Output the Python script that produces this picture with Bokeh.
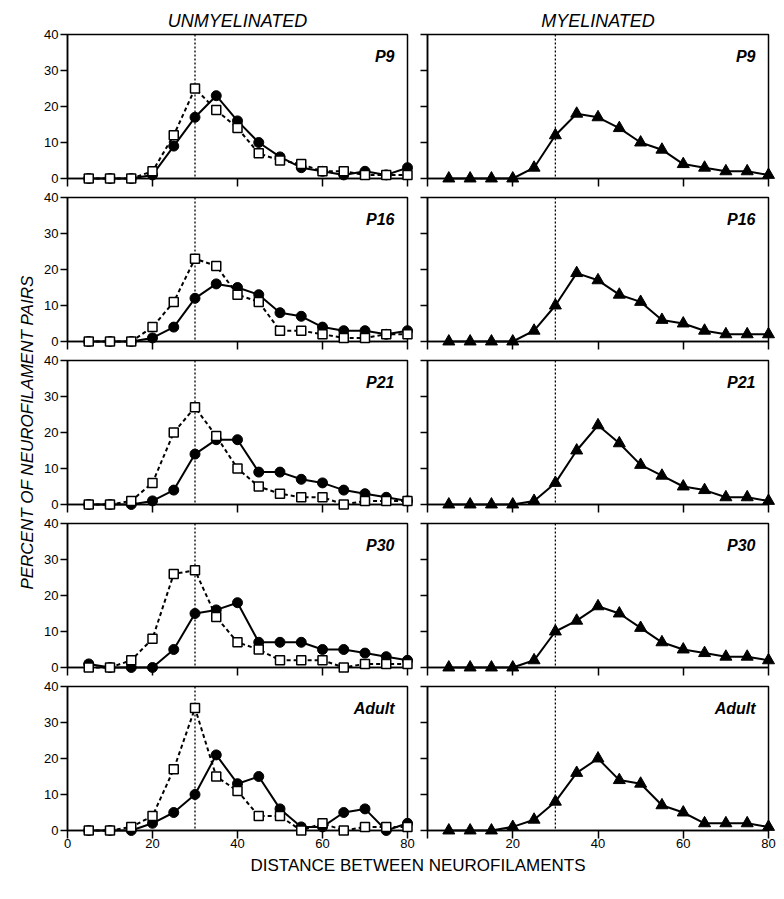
from bokeh.plotting import figure
from bokeh.models import Range1d, Span, Label, Title, FixedTicker
from bokeh.layouts import column, row
from bokeh.embed import file_html
from bokeh.resources import INLINE

# ---------------- data ----------------
distance = [5, 10, 15, 20, 25, 30, 35, 40, 45, 50, 55, 60, 65, 70, 75, 80]
x_ticks = [0, 20, 40, 60, 80]
y_ticks = [0, 10, 20, 30, 40]
panel_labels = ["P9", "P16", "P21", "P30", "Adult"]
column_titles = ["UNMYELINATED", "MYELINATED"]
threshold = 30

p9_unmyel_circle = [0, 0, 0, 1, 9, 17, 23, 16, 10, 6, 3, 2, 1, 2, 1, 3]
p9_unmyel_square = [0, 0, 0, 2, 12, 25, 19, 14, 7, 5, 4, 2, 2, 1, 1, 1]
p9_myel_triangle = [0, 0, 0, 0, 3, 12, 18, 17, 14, 10, 8, 4, 3, 2, 2, 1]

p16_unmyel_circle = [0, 0, 0, 1, 4, 12, 16, 15, 13, 8, 7, 4, 3, 3, 2, 3]
p16_unmyel_square = [0, 0, 0, 4, 11, 23, 21, 13, 11, 3, 3, 2, 1, 1, 2, 2]
p16_myel_triangle = [0, 0, 0, 0, 3, 10, 19, 17, 13, 11, 6, 5, 3, 2, 2, 2]

p21_unmyel_circle = [0, 0, 0, 1, 4, 14, 18, 18, 9, 9, 7, 6, 4, 3, 2, 1]
p21_unmyel_square = [0, 0, 1, 6, 20, 27, 19, 10, 5, 3, 2, 2, 0, 1, 1, 1]
p21_myel_triangle = [0, 0, 0, 0, 1, 6, 15, 22, 17, 11, 8, 5, 4, 2, 2, 1]

p30_unmyel_circle = [1, 0, 0, 0, 5, 15, 16, 18, 7, 7, 7, 5, 5, 4, 3, 2]
p30_unmyel_square = [0, 0, 2, 8, 26, 27, 14, 7, 5, 2, 2, 2, 0, 1, 1, 1]
p30_myel_triangle = [0, 0, 0, 0, 2, 10, 13, 17, 15, 11, 7, 5, 4, 3, 3, 2]

adult_unmyel_circle = [0, 0, 0, 2, 5, 10, 21, 13, 15, 6, 1, 1, 5, 6, 0, 2]
adult_unmyel_square = [0, 0, 1, 4, 17, 34, 15, 11, 4, 4, 0, 2, 0, 1, 1, 1]
adult_myel_triangle = [0, 0, 0, 1, 3, 8, 16, 20, 14, 13, 7, 5, 2, 2, 2, 1]

unmyel_circles = [p9_unmyel_circle, p16_unmyel_circle, p21_unmyel_circle,
                  p30_unmyel_circle, adult_unmyel_circle]
unmyel_squares = [p9_unmyel_square, p16_unmyel_square, p21_unmyel_square,
                  p30_unmyel_square, adult_unmyel_square]
myel_triangles = [p9_myel_triangle, p16_myel_triangle, p21_myel_triangle,
                  p30_myel_triangle, adult_myel_triangle]

FONT = "Liberation Sans"
NROWS = len(panel_labels)
TOP_FIRST = 34
BOTTOM_LAST = 23


def make_panel(col, r):
    first = r == 0
    last = r == NROWS - 1
    w = 377 if col == 0 else 359
    top = TOP_FIRST if first else 10
    bottom = BOTTOM_LAST if last else 9
    h = top + 144 + bottom
    p = figure(width=w, height=h, x_range=Range1d(0, 80), y_range=Range1d(0, 40),
               output_backend="svg", toolbar_location=None,
               min_border_left=27 if col == 0 else 10,
               min_border_right=10 if col == 0 else 8,
               min_border_top=top, min_border_bottom=bottom)
    p.xgrid.visible = False
    p.ygrid.visible = False
    p.outline_line_color = "black"
    p.outline_line_width = 1.5
    p.outline_line_alpha = 1.0
    p.background_fill_color = "white"
    p.border_fill_color = "white"

    xa = p.xaxis[0]
    ya = p.yaxis[0]
    xa.ticker = FixedTicker(ticks=x_ticks)
    ya.ticker = FixedTicker(ticks=y_ticks)
    for ax in (xa, ya):
        ax.minor_tick_line_color = None
        ax.major_tick_in = 0
        ax.axis_line_width = 1.5
        ax.major_tick_line_width = 1.5
        ax.axis_line_color = "black"
        ax.major_tick_line_color = "black"
        ax.major_label_text_font = FONT
        ax.major_label_text_font_size = "13px"
        ax.major_label_text_color = "black"
    xa.major_tick_out = 8
    ya.major_tick_out = 7
    xa.major_label_standoff = 0
    ya.major_label_standoff = 2

    if not last:
        xa.major_label_overrides = {t: "" for t in x_ticks}
        xa.major_label_text_font_size = "0px"
    elif col == 1:
        xa.major_label_overrides = {0: ""}
    if col == 1:
        ya.major_label_overrides = {t: "" for t in y_ticks}
        ya.major_label_text_font_size = "0px"
        ya.major_label_standoff = 0

    if first:
        p.title.text = column_titles[col]
        p.title.align = "center"
        p.title.vertical_align = "top"
        p.title.text_font = FONT
        p.title.text_font_style = "italic"
        p.title.text_font_size = "18px"
        p.title.text_color = "black"
        p.title.standoff = 4

    p.add_layout(Span(location=threshold, dimension="height", line_color="black",
                      line_width=1.3, line_dash="2 2"))
    p.add_layout(Label(x=327 if col == 0 else 328, y=131, x_units="screen", y_units="screen",
                       text=panel_labels[r], text_align="right", text_baseline="top",
                       text_font=FONT, text_font_style="bold italic",
                       text_font_size="16px", text_color="black"))

    if col == 0:
        p.line(distance, unmyel_circles[r], line_color="black", line_width=2, level="overlay")
        p.scatter(distance, unmyel_circles[r], marker="circle", size=10,
                  fill_color="black", line_color="black", level="overlay")
        p.line(distance, unmyel_squares[r], line_color="black", line_width=2,
               line_dash="4 3", level="overlay")
        p.scatter(distance, unmyel_squares[r], marker="square", size=9,
                  fill_color="white", line_color="black", line_width=1.5, level="overlay")
    else:
        p.line(distance, myel_triangles[r], line_color="black", line_width=2, level="overlay")
        p.scatter(distance, myel_triangles[r], marker="triangle", size=12,
                  fill_color="black", line_color="black", level="overlay")
    return p


grid_rows = [row(make_panel(0, r), make_panel(1, r)) for r in range(NROWS)]
grid_height = (TOP_FIRST + 144 + 9) + 163 * (NROWS - 2) + (10 + 144 + BOTTOM_LAST)

ylab = figure(width=40, height=grid_height, x_range=Range1d(0, 1), y_range=Range1d(0, 1),
              x_axis_location=None, y_axis_location=None,
              output_backend="svg", toolbar_location=None,
              min_border_left=38, min_border_right=0,
              min_border_top=TOP_FIRST, min_border_bottom=BOTTOM_LAST)
ylab.outline_line_color = None
ylab.xgrid.visible = False
ylab.ygrid.visible = False
ylab.add_layout(Title(text="PERCENT OF NEUROFILAMENT PAIRS", align="center",
                      text_font=FONT, text_font_style="italic", text_font_size="17px",
                      text_color="black", standoff=3), "left")

footer = figure(width=776, height=36, x_range=Range1d(0, 1), y_range=Range1d(0, 1),
                x_axis_location=None, y_axis_location=None,
                output_backend="svg", toolbar_location=None,
                min_border_left=67, min_border_right=8, min_border_top=0, min_border_bottom=0)
footer.outline_line_color = None
footer.xgrid.visible = False
footer.ygrid.visible = False
footer.add_layout(Title(text="DISTANCE BETWEEN NEUROFILAMENTS", align="center",
                        text_font=FONT, text_font_style="normal", text_font_size="17px",
                        text_color="black", standoff=0), "above")

layout = column(row(ylab, column(*grid_rows)), footer)

open("out.html", "w").write(file_html(layout, INLINE))
